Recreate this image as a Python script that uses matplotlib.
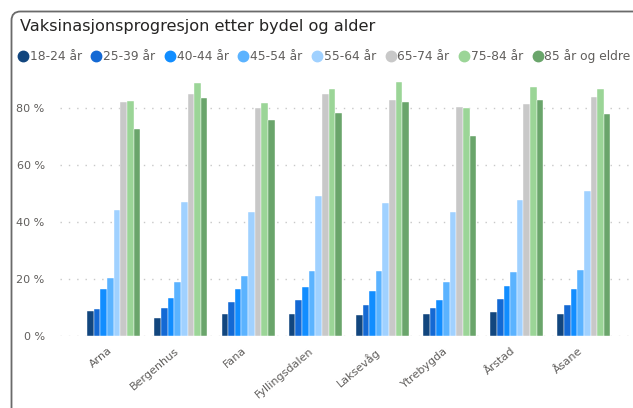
import numpy as np
import matplotlib.pyplot as plt
from matplotlib.patches import FancyBboxPatch
from matplotlib.lines import Line2D

bydeler = ['Arna', 'Bergenhus', 'Fana', 'Fyllingsdalen', 'Laksevåg', 'Ytrebygda', 'Årstad', 'Åsane']
aldre = ['18-24 år', '25-39 år', '40-44 år', '45-54 år', '55-64 år', '65-74 år', '75-84 år', '85 år og eldre']

a18_24 = [8.6, 6.3, 7.5, 7.7, 7.2, 7.7, 8.3, 7.5]
a25_39 = [9.5, 9.7, 12.0, 12.5, 10.7, 9.6, 12.8, 10.8]
a40_44 = [16.3, 13.4, 16.6, 17.0, 15.9, 12.4, 17.4, 16.4]
a45_54 = [20.2, 19.0, 21.1, 22.7, 22.9, 18.8, 22.5, 23.2]
a55_64 = [44.2, 46.9, 43.5, 49.2, 46.7, 43.5, 47.6, 50.8]
a65_74 = [82.1, 85.0, 80.1, 85.0, 82.8, 80.4, 81.5, 83.9]
a75_84 = [82.5, 89.0, 81.9, 86.8, 89.3, 80.0, 87.6, 86.8]
a85 = [72.7, 83.7, 76.0, 78.5, 82.4, 70.2, 82.8, 78.1]

serier = [a18_24, a25_39, a40_44, a45_54, a55_64, a65_74, a75_84, a85]
farger = ['#12467e', '#1469d4', '#118dff', '#5bb3ff', '#a0d1ff', '#c8c8c8', '#9bd597', '#6aa56b']

W, H = 633, 408
fig = plt.figure(figsize=(W / 100, H / 100), dpi=100)
fig.patch.set_facecolor('white')

# card frame (top-left corner of a Power BI visual)
ramme = FancyBboxPatch((11.5, -30), 900, H - 11.5 + 30, boxstyle='round,pad=0,rounding_size=9',
                       transform=None, fill=False, edgecolor='#6a6a6a', linewidth=1.3)
fig.add_artist(ramme)

fig.text(20 / W, 1 - 27 / H, 'Vaksinasjonsprogresjon etter bydel og alder',
         fontsize=11.6, color='#252423', va='center', ha='left', family='DejaVu Sans')

ax = fig.add_axes([60 / W, (H - 335.7) / H, 1 - 60 / W, (335.7 - 80) / H])

x = np.arange(len(bydeler))
gruppe = 0.79
bw = gruppe / len(serier)
for i, (verdier, farge) in enumerate(zip(serier, farger)):
    ax.bar(x - gruppe / 2 + bw * (i + 0.5), verdier, width=bw, color=farge,
           edgecolor='white', linewidth=0.3, label=aldre[i], zorder=3)

ax.set_xlim(-0.8, 7.73)
ax.set_ylim(0, 90)
ax.set_yticks([0, 20, 40, 60, 80])
ax.set_yticklabels(['0 %', '20 %', '40 %', '60 %', '80 %'])
ax.grid(axis='y', linestyle=(0, (1, 5)), color='#c8c8c8', linewidth=1, zorder=0)
ax.set_xticks(x)
ax.set_xticklabels(bydeler, rotation=40, ha='right', rotation_mode='default')
ax.tick_params(axis='both', length=0, labelsize=8, labelcolor='#605e5c')
ax.tick_params(axis='y', pad=11)
ax.tick_params(axis='x', pad=7)
for lbl in ax.get_xticklabels():
    lbl.set_x(lbl.get_position()[0])
for s in ax.spines.values():
    s.set_visible(False)

handles = [Line2D([], [], marker='o', linestyle='none', markersize=7.5, color=c) for c in farger]
fig.legend(handles, aldre, loc='center left', bbox_to_anchor=(18 / W, 1 - 56 / H), ncol=8,
           frameon=False, fontsize=8.8, handlelength=0.8, handletextpad=0.15,
           columnspacing=0.8, borderpad=0, borderaxespad=0, labelcolor='#605e5c')

fig.savefig('out.png', dpi=100)
